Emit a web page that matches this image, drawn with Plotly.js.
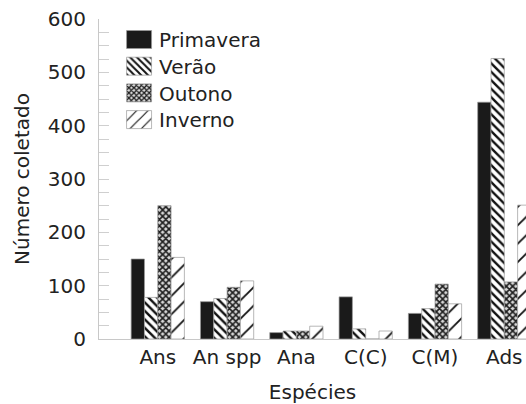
<!DOCTYPE html>
<html>
<head>
<meta charset="utf-8">
<script src="https://cdn.plot.ly/plotly-3.0.1.min.js"></script>
<style>html,body{margin:0;padding:0;background:#fff;overflow:hidden}</style>
</head>
<body>
<div id="chart" style="width:526px;height:404px"></div>
<script>
const categories = ["Ans", "An spp", "Ana", "C(C)", "C(M)", "Ads"];
const seriesNames = ["Primavera", "Verão", "Outono", "Inverno"];
const primavera = [150, 70, 12, 79, 48, 444];
const verao      = [78, 76, 15, 19, 57, 526];
const outono     = [250, 97, 15, 0, 103, 107];
const inverno    = [153, 109, 24, 15, 66, 251];
const yTickVals  = [0, 100, 200, 300, 400, 500, 600];

const FONT = "DejaVu Sans, Liberation Sans, sans-serif";
const TXT = "#222";
const patterns = [
  {shape: "", bgcolor: "#1a1a1a", fgcolor: "#1a1a1a"},
  {shape: "\\", size: 6, solidity: 0.4, fgcolor: "#111", bgcolor: "#fff", fillmode: "replace"},
  {shape: "x", size: 4.5, solidity: 0.6, fgcolor: "#1e1e1e", bgcolor: "#d8d8d8", fillmode: "replace"},
  {shape: "/", size: 13, solidity: 0.14, fgcolor: "#111", bgcolor: "#fff", fillmode: "replace"}
];
const values = [primavera, verao, outono, inverno];

const traces = seriesNames.map((name, i) => ({
  type: "bar",
  name: name,
  x: categories,
  y: values[i],
  marker: {
    color: i === 0 ? "#1a1a1a" : "#fff",
    pattern: patterns[i],
    line: {color: "#999", width: 0.7}
  }
}));

const layout = {
  width: 526, height: 404,
  margin: {l: 99, r: 0, t: 19, b: 65},
  paper_bgcolor: "#fff", plot_bgcolor: "#fff",
  barmode: "group", bargap: 0.232, bargroupgap: 0,
  font: {family: FONT, size: 20, color: TXT},
  showlegend: true,
  legend: {
    x: 0.047, y: 1.0, xanchor: "left", yanchor: "top",
    bgcolor: "rgba(0,0,0,0)", borderwidth: 0,
    font: {family: FONT, size: 20, color: TXT},
    tracegroupgap: 0, itemwidth: 30
  },
  xaxis: {
    type: "category",
    range: [-0.848, 5.313],
    showline: true, linecolor: "#c8c8c8", linewidth: 1,
    ticks: "", showgrid: false, zeroline: false,
    tickfont: {family: FONT, size: 20, color: TXT},
    title: {text: "Espécies", font: {family: FONT, size: 20, color: TXT}, standoff: 22}
  },
  yaxis: {
    range: [0, 600], fixedrange: true,
    tickvals: yTickVals,
    showline: true, linecolor: "#c8c8c8", linewidth: 1,
    ticks: "inside", ticklen: 10, tickcolor: "#cfcfcf", tickwidth: 1,
    minor: {dtick: 25, ticks: "inside", ticklen: 10, tickcolor: "#cfcfcf", tickwidth: 1},
    showgrid: false, zeroline: false,
    ticklabelstandoff: 8,
    tickfont: {family: FONT, size: 20, color: TXT},
    title: {text: "Número coletado", font: {family: FONT, size: 20, color: TXT}, standoff: 12}
  }
};

Plotly.newPlot("chart", traces, layout, {displayModeBar: false, staticPlot: true}).then(() => {
  // enlarge legend swatches (keep plotly's own positioning transform)
  document.querySelectorAll(".legend .legendpoints path").forEach(p => {
    p.setAttribute("d", "M12.5,9H-12.5V-9H12.5Z");
  });
  // tighten legend row spacing to match reference
  const items = document.querySelectorAll(".legend .traces");
  let x0 = null, y0 = null;
  items.forEach((g, i) => {
    const t = g.getAttribute("transform") || "";
    const m = t.match(/translate\(\s*([-\d.]+)[ ,]+([-\d.]+)\s*\)/);
    if (!m) return;
    if (i === 0) { x0 = parseFloat(m[1]); y0 = parseFloat(m[2]) + 1; }
    g.setAttribute("transform", "translate(" + x0 + "," + (y0 + i * 26.7) + ")");
  });
});
</script>
</body>
</html>
